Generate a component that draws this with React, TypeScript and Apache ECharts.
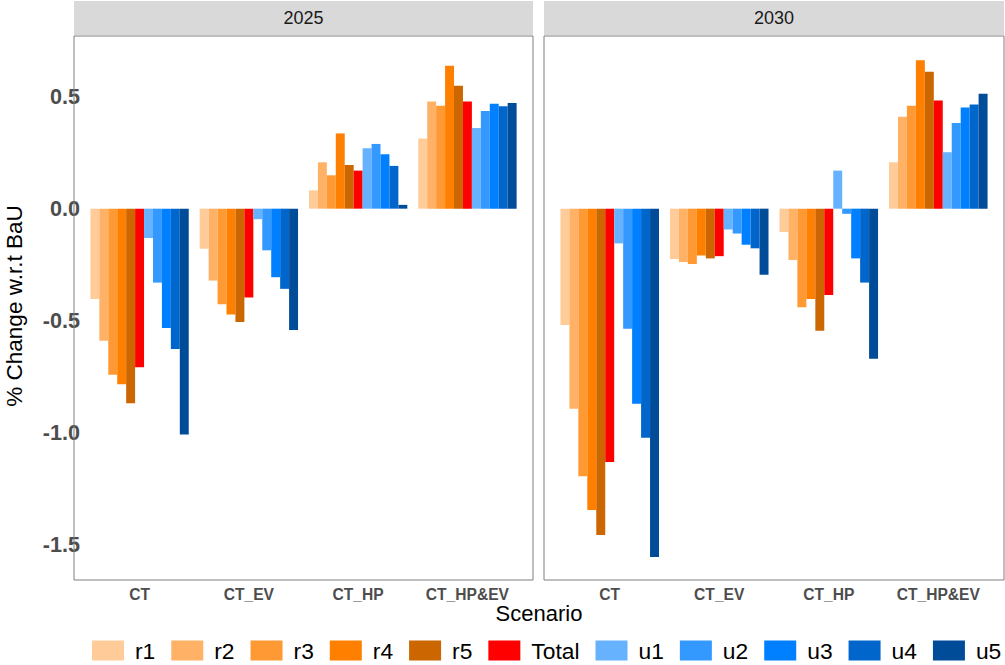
import React, { useEffect, useRef } from "react";
import * as echarts from "echarts";

const categories = ["CT", "CT_EV", "CT_HP", "CT_HP&EV"];
const years = ["2025", "2030"];
const seriesNames = ["r1", "r2", "r3", "r4", "r5", "Total", "u1", "u2", "u3", "u4", "u5"];
const seriesColors = ["#FFCC99", "#FFB266", "#FF9933", "#FF8000", "#CC6600", "#FF0000", "#66B2FF", "#3399FF", "#0080FF", "#0066CC", "#004C99"];
const yTicks = [-1.5, -1.0, -0.5, 0.0, 0.5];

// 2025 values (CT, CT_EV, CT_HP, CT_HP&EV)
const r1_2025 = [-0.403, -0.179, 0.082, 0.313];
const r2_2025 = [-0.59, -0.321, 0.207, 0.478];
const r3_2025 = [-0.742, -0.427, 0.149, 0.46];
const r4_2025 = [-0.784, -0.473, 0.336, 0.638];
const r5_2025 = [-0.869, -0.506, 0.195, 0.549];
const total_2025 = [-0.708, -0.397, 0.17, 0.478];
const u1_2025 = [-0.131, -0.047, 0.27, 0.36];
const u2_2025 = [-0.33, -0.186, 0.289, 0.436];
const u3_2025 = [-0.533, -0.306, 0.243, 0.469];
const u4_2025 = [-0.627, -0.358, 0.191, 0.457];
const u5_2025 = [-1.008, -0.542, 0.017, 0.472];

// 2030 values
const r1_2030 = [-0.519, -0.225, -0.104, 0.207];
const r2_2030 = [-0.893, -0.238, -0.229, 0.41];
const r3_2030 = [-1.195, -0.247, -0.44, 0.46];
const r4_2030 = [-1.345, -0.209, -0.403, 0.663];
const r5_2030 = [-1.457, -0.222, -0.545, 0.611];
const total_2030 = [-1.131, -0.212, -0.385, 0.483];
const u1_2030 = [-0.155, -0.093, 0.17, 0.252];
const u2_2030 = [-0.536, -0.111, -0.023, 0.383];
const u3_2030 = [-0.871, -0.161, -0.222, 0.452];
const u4_2030 = [-1.023, -0.177, -0.33, 0.465];
const u5_2030 = [-1.555, -0.295, -0.67, 0.513];

const data2025 = [r1_2025, r2_2025, r3_2025, r4_2025, r5_2025, total_2025, u1_2025, u2_2025, u3_2025, u4_2025, u5_2025];
const data2030 = [r1_2030, r2_2030, r3_2030, r4_2030, r5_2030, total_2030, u1_2030, u2_2030, u3_2030, u4_2030, u5_2030];

const FONT = "'Liberation Sans', Arial, Helvetica, sans-serif";

export default function App() {
  const ref = useRef<HTMLDivElement>(null);
  useEffect(() => {
    if (!ref.current) return;
    const chart = echarts.init(ref.current, null, { renderer: "svg" });

    const panelTop = 36;
    const panelBottom = 580;
    const panels = [
      { left: 74, right: 533 },
      { left: 544, right: 1004 },
    ];
    const yMin = -1.658;
    const yMax = 0.771;

    const grids = panels.map((p) => {
      const w = p.right - p.left;
      const unit = w / 4.2;
      return {
        left: p.left + 0.1 * unit,
        width: 4 * unit,
        top: panelTop,
        height: panelBottom - panelTop,
        show: false,
        containLabel: false,
      };
    });

    const xAxes = panels.map((_, i) => ({
      type: "category",
      gridIndex: i,
      data: categories,
      axisLine: { show: false },
      axisTick: { show: false },
      axisLabel: {
        fontFamily: FONT,
        fontSize: 15.6,
        fontWeight: "bold",
        color: "#4d4d4d",
        margin: 6,
      },
    }));

    const yAxes = panels.map((_, i) => ({
      type: "value",
      gridIndex: i,
      min: yMin,
      max: yMax,
      axisLine: { show: false },
      axisTick: { show: false },
      splitLine: { show: false },
      axisLabel: {
        show: i === 0,
        customValues: yTicks,
        formatter: (v: number) => v.toFixed(1),
        fontFamily: FONT,
        fontSize: 21.6,
        fontWeight: "bold",
        color: "#4d4d4d",
        margin: 5,
      },
    }));

    const series: any[] = [];
    [data2025, data2030].forEach((yearData, gi) => {
      yearData.forEach((vals, si) => {
        series.push({
          type: "bar",
          name: seriesNames[si],
          xAxisIndex: gi,
          yAxisIndex: gi,
          data: vals,
          barGap: "0%",
          barCategoryGap: "10%",
          itemStyle: { color: seriesColors[si] },
        });
      });
    });

    const graphics: any[] = [];
    panels.forEach((p, i) => {
      graphics.push({
        type: "rect",
        shape: { x: p.left, y: 1, width: p.right - p.left, height: 34 },
        style: { fill: "#d9d9d9" },
        z: 0,
      });
      graphics.push({
        type: "text",
        x: (p.left + p.right) / 2,
        y: 18,
        style: {
          text: years[i],
          fontFamily: FONT,
          fontSize: 18,
          fill: "#1a1a1a",
          align: "center",
          verticalAlign: "middle",
        },
      });
      graphics.push({
        type: "rect",
        shape: { x: p.left, y: panelTop, width: p.right - p.left, height: panelBottom - panelTop },
        style: { fill: "none", stroke: "#7f7f7f", lineWidth: 1 },
        z: 100,
      });
    });
    graphics.push({
      type: "text",
      x: 539,
      y: 613,
      style: {
        text: "Scenario",
        fontFamily: FONT,
        fontSize: 22,
        fill: "#000",
        align: "center",
        verticalAlign: "middle",
      },
    });
    graphics.push({
      type: "text",
      x: 14,
      y: 306,
      rotation: Math.PI / 2,
      style: {
        text: "% Change w.r.t BaU",
        fontFamily: FONT,
        fontSize: 22.5,
        fill: "#000",
        align: "center",
        verticalAlign: "middle",
      },
    });

    chart.setOption({
      animation: false,
      backgroundColor: "#ffffff",
      grid: grids,
      xAxis: xAxes,
      yAxis: yAxes,
      series,
      legend: {
        data: seriesNames,
        left: 92,
        top: 639,
        width: 960,
        padding: 0,
        icon: "rect",
        itemWidth: 32,
        itemHeight: 20,
        itemGap: 16,
        textStyle: {
          fontFamily: FONT,
          fontSize: 22.8,
          color: "#000",
          padding: [0, 0, 0, 6],
        },
      },
      graphic: graphics,
    });

    return () => chart.dispose();
  }, []);

  return (
    <div
      ref={ref}
      style={{ position: "fixed", left: 0, top: 0, width: 1005, height: 665 }}
    />
  );
}
